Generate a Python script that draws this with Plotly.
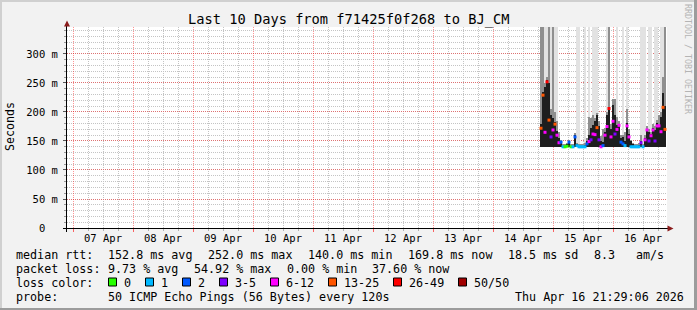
import plotly.graph_objects as go
from datetime import datetime, timedelta

# ---------------- data ----------------
title_text = "Last 10 Days from f71425f0f268 to BJ_CM"
view_start = "2026-04-06 21:36"
view_end = "2026-04-16 21:36"
sample_start = datetime(2026, 4, 14, 19, 12)
sample_step_min = 48

median_ms = [172, 229, 165, 252, 186, 157, 169, 179, 160, 147, 148, 140, 140, 141, 148, 140,
             140, 157, 142, 140, 140, 140, 140, 145, 149, 152, 162, 161, 173, 152, 140, 142,
             160, 175, 206, 157, 184, 162, 170, 177, 148, 145, 142, 176, 157, 140, 140, 140,
             140, 140, 147, 140, 152, 169, 150, 159, 169, 150, 176, 176, 166, 208, 170]
lost_pings = [15, 15, 8, 30, 15, 4, 8, 15, 8, 8, 2, 1, 0, 0, 2, 0,
              1, 2, 1, 1, 1, 1, 1, 2, 8, 4, 8, 8, 15, 4, 8, 2,
              8, 8, 30, 8, 8, 4, 8, 8, 2, 2, 1, 8, 8, 1, 1, 1,
              1, 1, 4, 1, 8, 8, 4, 8, 8, 4, 8, 8, 8, 15, 15]
smoke_floor = 139.5
smoke_dense = [180, 234, 243, 256, 250, 195, 190, 182, 168, 155, 150, 142, 142, 144, 150, 142,
               142, 160, 145, 142, 142, 142, 143, 150, 160, 172, 178, 185, 195, 175, 150, 148,
               165, 195, 207, 170, 212, 195, 178, 177, 155, 157, 150, 181, 162, 150, 145, 142,
               142, 143, 150, 142, 155, 170, 165, 162, 172, 169, 181, 178, 192, 232, 210]
smoke_upper = [360, 360, 250, 260, 360, 205, 360, 200, 185, 165, 152, 144, 144, 146, 152, 144,
               144, 163, 147, 144, 144, 144, 146, 155, 192, 190, 195, 190, 198, 185, 158, 170,
               172, 200, 360, 180, 222, 222, 192, 185, 160, 160, 165, 206, 170, 152, 146, 144,
               144, 146, 160, 144, 160, 175, 170, 165, 180, 176, 186, 195, 200, 260, 360]
smoke_peak = [360, 360, 360, 360, 360, 360, 360, 360, 360, None, None, None, None, None, None, None,
              None, None, 360, 360, None, None, 360, None, 360, None, 360, 360, 360, None, None, None,
              None, 360, 360, None, None, None, 360, None, None, 360, None, 360, None, None, None, None,
              None, None, 360, 360, 360, None, 360, 360, None, 360, 360, None, 360, 360, 360]

loss_labels = ["0", "1", "2", "3-5", "6-12", "13-25", "26-49", "50/50"]
loss_upper = [0, 1, 2, 5, 12, 25, 49, 50]
loss_colors = ["#26ff00", "#00b8ff", "#0059ff", "#7e00ff", "#ff00ff", "#ff5500", "#ff0000", "#a10000"]

y_tick_vals = [0, 50, 100, 150, 200, 250, 300]
y_tick_text = ["0\u00a0\u00a0", "50 m", "100 m", "150 m", "200 m", "250 m", "300 m"]
day_label_vals = ["2026-04-%02d 12:00" % d for d in range(7, 17)]
day_label_text = ["%02d Apr" % d for d in range(7, 17)]

# legend text pieces with their character column in the legend text grid
legend_rtt = [("median rtt:", 0), ("152.8 ms avg", 13), ("252.0 ms max", 27), ("140.0 ms min", 41),
              ("169.8 ms now", 55), ("18.5 ms sd", 69), ("8.3", 81), ("am/s", 87)]
legend_loss = [("packet loss:", 0), ("9.73 % avg", 13), ("54.92 % max", 25), ("0.00 % min", 38),
               ("37.60 % now", 50)]
legend_probe = [("probe:", 0), ("50 ICMP Echo Pings (56 Bytes) every 120s", 13),
                ("Thu Apr 16 21:29:06 2026", 70)]
loss_box_x = [108.5, 145.5, 182.5, 219.5, 270.5, 328.5, 393.5, 458.5]

# ---------------- layout geometry ----------------
W, H = 697, 310
X0, X1 = 67, 667
Y0, Y1 = 27, 228
MONO = "DejaVu Sans Mono"
COL0, COLW = 14.6, 7.135


def PX(x):
    return (x - X0) / (X1 - X0)


def PY(y):
    return (Y1 - y) / (Y1 - Y0)


times = [sample_start + timedelta(minutes=sample_step_min * i) for i in range(len(median_ms))]
bar_w = sample_step_min * 60 * 1000


def loss_color(n):
    for up, c in zip(loss_upper, loss_colors):
        if n <= up:
            return c
    return loss_colors[-1]


def span(tops):
    return [None if t is None else t - smoke_floor for t in tops]


fig = go.Figure()
fig.add_trace(go.Bar(x=times, y=span(smoke_peak), base=smoke_floor, width=bar_w,
                     marker=dict(color="#e2e2e2", line=dict(width=0)), hoverinfo="skip"))
fig.add_trace(go.Bar(x=times, y=span(smoke_upper), base=smoke_floor, width=bar_w,
                     marker=dict(color="#8f8f8f", line=dict(width=0)), hoverinfo="skip"))
fig.add_trace(go.Bar(x=times, y=span(smoke_dense), base=smoke_floor, width=bar_w,
                     marker=dict(color="#1e1e1e", line=dict(width=0)), hoverinfo="skip"))
fig.add_trace(go.Scatter(x=times, y=median_ms, mode="markers", xaxis="x2",
                         marker=dict(symbol="square", size=3, line=dict(width=0),
                                     color=[loss_color(n) for n in lost_pings])))

shapes = []
# frame
shapes.append(dict(type="rect", xref="paper", yref="paper", x0=PX(0), x1=PX(W), y0=PY(0), y1=PY(2),
                   fillcolor="#d0d0d0", line=dict(width=0), layer="below"))
shapes.append(dict(type="rect", xref="paper", yref="paper", x0=PX(0), x1=PX(2), y0=PY(0), y1=PY(H),
                   fillcolor="#d0d0d0", line=dict(width=0), layer="below"))
shapes.append(dict(type="rect", xref="paper", yref="paper", x0=PX(0), x1=PX(W), y0=PY(H - 2), y1=PY(H),
                   fillcolor="#9c9c9c", line=dict(width=0)))
shapes.append(dict(type="rect", xref="paper", yref="paper", x0=PX(W - 3), x1=PX(W), y0=PY(0), y1=PY(H),
                   fillcolor="#9c9c9c", line=dict(width=0)))
# axis lines
shapes.append(dict(type="line", xref="paper", yref="paper", x0=PX(63), x1=PX(668), y0=PY(228.5), y1=PY(228.5),
                   line=dict(color="#000000", width=1)))
shapes.append(dict(type="line", xref="paper", yref="paper", x0=PX(66.5), x1=PX(66.5), y0=PY(25), y1=PY(232),
                   line=dict(color="#000000", width=1)))
# arrows
shapes.append(dict(type="path", xref="paper", yref="paper",
                   path="M %f %f L %f %f L %f %f Z" % (PX(64), PY(26.5), PX(70), PY(26.5), PX(67), PY(20.5)),
                   fillcolor="#8b1c1c", line=dict(width=0)))
shapes.append(dict(type="path", xref="paper", yref="paper",
                   path="M %f %f L %f %f L %f %f Z" % (PX(667.5), PY(225.5), PX(667.5), PY(231.5), PX(673.5), PY(228.5)),
                   fillcolor="#8b1c1c", line=dict(width=0)))
# loss color boxes
for bx, c in zip(loss_box_x, loss_colors):
    shapes.append(dict(type="rect", xref="paper", yref="paper", x0=PX(bx), x1=PX(bx + 8), y0=PY(286), y1=PY(278),
                       fillcolor=c, line=dict(color="#000000", width=1)))

ann = []


def txt(s, x, y, size=11.7, anchor="left", angle=0, color="#000000"):
    ann.append(dict(text=s, x=PX(x), y=PY(y), xref="paper", yref="paper", showarrow=False,
                    xanchor=anchor, yanchor="middle", textangle=angle, borderpad=0,
                    font=dict(family=MONO, size=size, color=color)))


def col(c):
    return COL0 + c * COLW


txt(title_text, 348, 19.5, size=13.7, anchor="center")
txt("Seconds", 10, 127, size=11.6, anchor="center", angle=-90)
txt("RRDTOOL / TOBI OETIKER", 688, 59, size=8.3, anchor="center", angle=90, color="#b4b4b4")
for s, c in legend_rtt:
    txt(s, col(c), 254.5)
for s, c in legend_loss:
    txt(s, col(c), 268.5)
txt("loss color:", col(0), 282.5)
for s, bx in zip(loss_labels, loss_box_x):
    txt(s, bx + 14.5, 282.5)
for s, c in legend_probe:
    txt(s, col(c), 296.5)

grid_red = "rgba(255,0,0,0.42)"
grid_gray = "#c4c4c4"

fig.update_layout(
    width=W, height=H,
    margin=dict(l=X0, r=W - X1, t=Y0, b=H - Y1, pad=0),
    paper_bgcolor="#f2f2f2", plot_bgcolor="#ffffff",
    showlegend=False, barmode="overlay", bargap=0,
    font=dict(family=MONO, color="#000000"),
    xaxis=dict(type="date", range=[view_start, view_end], tick0="2026-04-07", dtick=86400000,
               showticklabels=False, showgrid=True, gridcolor=grid_red, griddash="1px,1px", gridwidth=1,
               ticks="outside", ticklen=3, tickcolor="rgba(255,0,0,0.6)", zeroline=False, showline=False,
               minor=dict(tick0="2026-04-07", dtick=6 * 3600000, showgrid=True, gridcolor=grid_gray,
                          griddash="1px,1px", ticks="outside", ticklen=2, tickcolor="#b0b0b0"),
               fixedrange=True),
    xaxis2=dict(type="date", range=[view_start, view_end], overlaying="x", anchor="y", side="bottom",
                tickmode="array", tickvals=day_label_vals, ticktext=day_label_text, showgrid=False,
                ticks="", zeroline=False, showline=False, ticklabelstandoff=2,
                tickfont=dict(family=MONO, size=10.5, color="#000000"), fixedrange=True),
    yaxis=dict(range=[0, 346.5], tickmode="array", tickvals=y_tick_vals, ticktext=y_tick_text,
               showgrid=True, gridcolor=grid_red, griddash="1px,1px", gridwidth=1,
               ticks="outside", ticklen=3, tickcolor="#555555", ticklabelstandoff=3,
               minor=dict(tick0=0, dtick=10, showgrid=True, gridcolor=grid_gray, griddash="1px,1px",
                          ticks="outside", ticklen=2, tickcolor="#999999"),
               zeroline=False, showline=False, fixedrange=True,
               tickfont=dict(family=MONO, size=10.5, color="#000000")),
    shapes=shapes, annotations=ann,
)

fig.write_html("out.html", config=dict(displayModeBar=False))
